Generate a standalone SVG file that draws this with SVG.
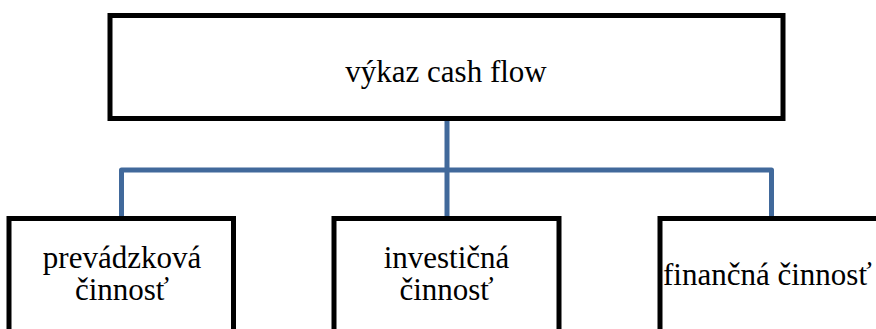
<svg xmlns="http://www.w3.org/2000/svg" width="876" height="329" viewBox="0 0 876 329">
<style>
.box{fill:#fff;stroke:#000;stroke-width:5}
.t{font-family:"Liberation Serif","Times New Roman",serif;font-size:31px;fill:#000}
.c{text-anchor:middle}
.conn{fill:none;stroke:#41699b;stroke-width:5;stroke-linejoin:round}
</style>
<rect width="876" height="329" fill="#fff"/>
<g id="connectors">
<path class="conn" d="M447 118V170M121.5 218V170H771.5V218M447 170V218"/>
</g>
<g id="root">
<rect class="box" x="110" y="15.5" width="673" height="103"/>
<text class="t c" x="446" y="82">výkaz cash flow</text>
</g>
<g id="prevadzkova">
<rect class="box" x="9" y="218.5" width="224.5" height="130"/>
<text class="t c" x="122" y="268">prevádzková</text>
<text class="t c" x="122" y="300">činnosť</text>
</g>
<g id="investicna">
<rect class="box" x="334" y="218.5" width="225" height="130"/>
<text class="t c" x="446.5" y="268">investičná</text>
<text class="t c" x="446.5" y="300">činnosť</text>
</g>
<g id="financna">
<rect class="box" x="660" y="218.5" width="260" height="130"/>
<text class="t" x="663" y="285">finančná činnosť</text>
</g>
</svg>
